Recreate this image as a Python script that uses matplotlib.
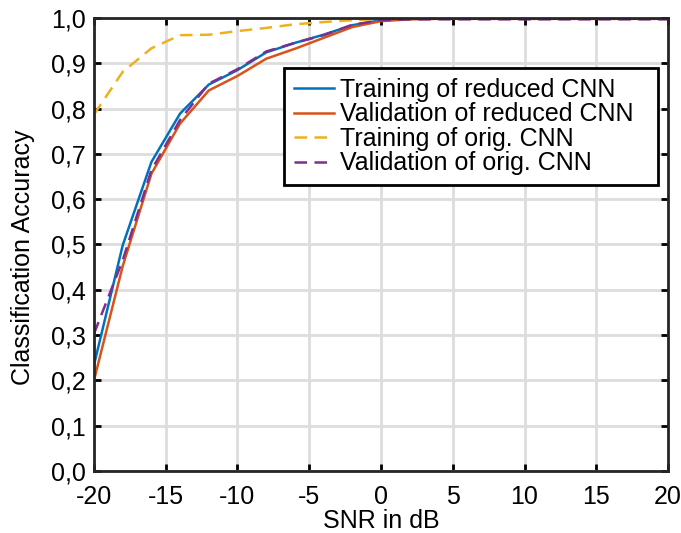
import matplotlib
matplotlib.use('Agg')
import matplotlib.pyplot as plt
from matplotlib.ticker import FuncFormatter

plt.rcParams['font.family'] = ['Liberation Sans', 'DejaVu Sans']
plt.rcParams['axes.unicode_minus'] = False

snr = [-20, -18, -16, -14, -12, -10, -8, -6, -4, -2, 0, 2, 4, 6, 8, 10, 12, 14, 16, 18, 20]
train_reduced = [0.234, 0.498, 0.682, 0.789, 0.853, 0.885, 0.924, 0.945, 0.963, 0.984, 0.995, 0.998,
                 0.999, 0.999, 0.999, 0.999, 0.999, 0.999, 0.999, 0.999, 0.999]
val_reduced = [0.200, 0.452, 0.656, 0.767, 0.840, 0.872, 0.910, 0.932, 0.956, 0.980, 0.993, 0.997,
               0.998, 0.998, 0.998, 0.998, 0.998, 0.998, 0.998, 0.998, 0.998]
train_orig = [0.787, 0.881, 0.933, 0.962, 0.963, 0.971, 0.978, 0.986, 0.991, 0.995, 0.998, 0.999,
              1.0, 1.0, 1.0, 1.0, 1.0, 1.0, 1.0, 1.0, 1.0]
val_orig = [0.303, 0.465, 0.664, 0.775, 0.855, 0.887, 0.926, 0.945, 0.962, 0.985, 0.995, 0.997,
            0.997, 0.997, 0.997, 0.997, 0.997, 0.997, 0.997, 0.997, 0.997]

fs = 18

fig = plt.figure(figsize=(6.81, 5.33), dpi=100)
ax = fig.add_axes([0.138, 0.1163, 0.843, 0.850])

lw = 1.8
ax.plot(snr, train_reduced, color='#0072BD', lw=lw, label='Training of reduced CNN')
ax.plot(snr, val_reduced, color='#D95319', lw=lw, label='Validation of reduced CNN')
ax.plot(snr, train_orig, color='#EDB120', lw=lw, linestyle=(0, (5, 3)), label='Training of orig. CNN')
ax.plot(snr, val_orig, color='#7E2F8E', lw=lw, linestyle=(0, (5, 3)), label='Validation of orig. CNN')

ax.set_xlim(-20, 20)
ax.set_ylim(0, 1)
ax.set_xticks(range(-20, 21, 5))
ax.set_yticks([i / 10 for i in range(11)])
ax.yaxis.set_major_formatter(FuncFormatter(lambda v, p: f'{v:.1f}'.replace('.', ',')))
ax.grid(True, color='#dddddd', lw=2)
ax.set_axisbelow(True)
ax.tick_params(direction='in', length=5, width=2, labelsize=fs, top=True, right=True)
ax.tick_params(axis='x', pad=10)
ax.tick_params(axis='y', pad=6)
for s in ax.spines.values():
    s.set_linewidth(2)
    s.set_color('#262626')

ax.set_xlabel('SNR in dB', fontsize=fs)
ax.set_ylabel('Classification Accuracy', fontsize=fs)
ax.xaxis.set_label_coords(0.5, -0.083)
ax.yaxis.set_label_coords(-0.102, 0.472)

leg = ax.legend(loc='upper left', bbox_to_anchor=(0.331, 0.5, 0.652, 0.39), mode='expand',
                fontsize=fs, frameon=True, fancybox=False, edgecolor='black', framealpha=1,
                handlelength=1.6, handletextpad=0.25, borderpad=0.4, labelspacing=0.02,
                borderaxespad=0)
leg.get_frame().set_linewidth(2)

fig.savefig('out.png', dpi=100)
